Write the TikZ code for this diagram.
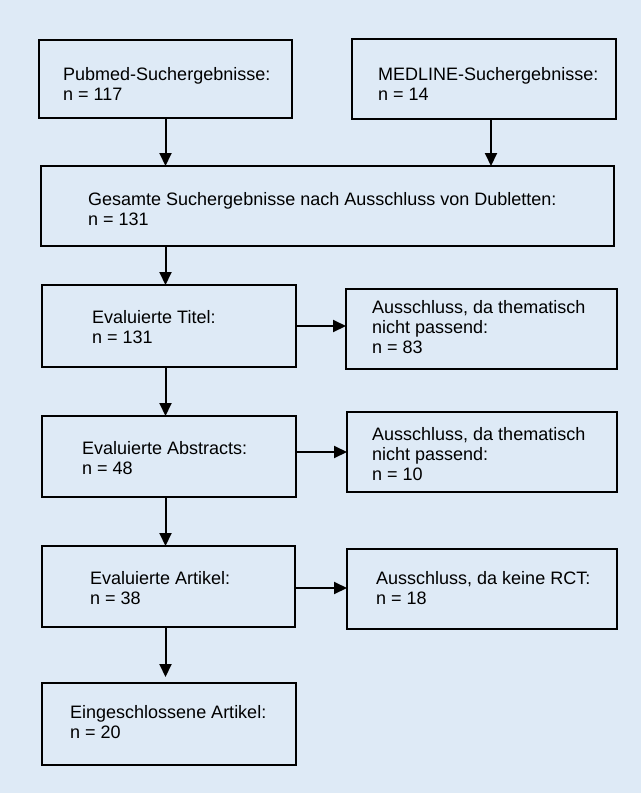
\documentclass[tikz,border=0pt]{standalone}
\usepackage{fontspec}
\setmainfont{Liberation Sans}
\usetikzlibrary{arrows.meta}
\definecolor{bgblue}{RGB}{222,234,246}
\begin{document}
\begin{tikzpicture}[x=1pt,y=-1pt,
  boxst/.style={draw=black, line width=1.8pt, anchor=north west, inner sep=0pt, outer sep=0pt},
  txt/.style={anchor=base west, inner sep=0pt, align=left, font=\fontsize{18}{20}\selectfont},
  arr/.style={line width=2pt, -{Triangle[width=12pt,length=13pt]}}]
\useasboundingbox (0,0) rectangle (641,793);
\fill[bgblue] (0,0) rectangle (641,793);
% boxes
\node[boxst, minimum width=253pt, minimum height=78pt] (b1) at (39,40) {};
\node[boxst, minimum width=264pt, minimum height=80pt] (b2) at (352,39) {};
\node[boxst, minimum width=573pt, minimum height=80pt] (b3) at (41,166) {};
\node[boxst, minimum width=254pt, minimum height=82pt] (b4) at (42,285) {};
\node[boxst, minimum width=271pt, minimum height=80pt] (b5) at (346,289) {};
\node[boxst, minimum width=254pt, minimum height=81pt] (b6) at (42,416) {};
\node[boxst, minimum width=270pt, minimum height=80pt] (b7) at (347,412) {};
\node[boxst, minimum width=253pt, minimum height=81pt] (b8) at (42,546) {};
\node[boxst, minimum width=270pt, minimum height=80pt] (b9) at (347,549) {};
\node[boxst, minimum width=254pt, minimum height=82pt] (b10) at (42,683) {};
% texts (base anchor = baseline of last line)
\node[txt] (t1) at (63,100) {Pubmed-Suchergebnisse:\\n = 117};
\node[txt] (t2) at (378,100) {MEDLINE-Suchergebnisse:\\n = 14};
\node[txt] (t3) at (88,225) {Gesamte Suchergebnisse nach Ausschluss von Dubletten:\\n = 131};
\node[txt] (t4) at (92,343) {Evaluierte Titel:\\n = 131};
\node[txt] (t5) at (372,353) {Ausschluss, da thematisch\\nicht passend:\\n = 83};
\node[txt] (t6) at (82,474) {Evaluierte Abstracts:\\n = 48};
\node[txt] (t7) at (372,480) {Ausschluss, da thematisch\\nicht passend:\\n = 10};
\node[txt] (t8) at (90,604) {Evaluierte Artikel:\\n = 38};
\node[txt] (t9) at (376,604) {Ausschluss, da keine RCT:\\n = 18};
\node[txt] (t10) at (70,738) {Eingeschlossene Artikel:\\n = 20};
% arrows
\draw[arr] (b1.south) -- (b1.south |- b3.north);
\draw[arr] ([xshift=7pt]b2.south) -- ([xshift=7pt]b2.south |- b3.north);
\draw[arr] (b3.south -| b1.south) -- (b4.north -| b1.south);
\draw[arr] (b4.south -| b1.south) -- (b6.north -| b1.south);
\draw[arr] (b6.south -| b1.south) -- (b8.north -| b1.south);
\draw[arr] (b8.south -| b1.south) -- ([yshift=6pt]b10.north -| b1.south);
\draw[arr] (b4.east) -- (b4.east -| b5.west);
\draw[arr] (b7.west -| b6.east) -- (b7.west);
\draw[arr] ([yshift=-1.5pt]b8.east) -- ([yshift=-1.5pt]b8.east -| b9.west);
\end{tikzpicture}
\end{document}
